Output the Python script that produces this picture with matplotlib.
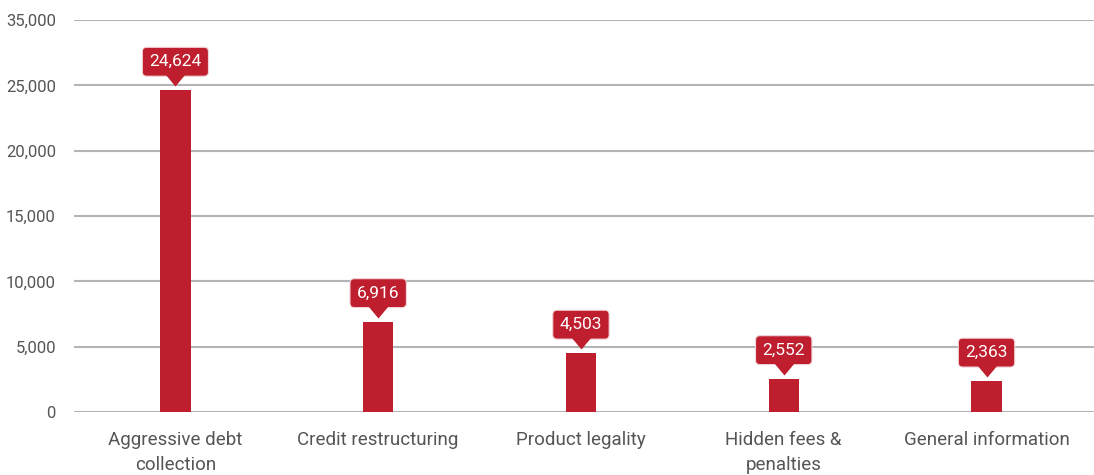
import matplotlib
matplotlib.use("Agg")
import matplotlib.pyplot as plt
import matplotlib.transforms as mtransforms

categories = ["Aggressive debt\ncollection", "Credit restructuring", "Product legality",
              "Hidden fees &\npenalties", "General information"]
values = [24624, 6916, 4503, 2552, 2363]
value_labels = ["24,624", "6,916", "4,503", "2,552", "2,363"]
ytick_values = [0, 5000, 10000, 15000, 20000, 25000, 30000]
ytick_labels = ["0", "5,000", "10,000", "15,000", "20,000", "25,000", "35,000"]

RED = "#be1e2d"
GRID = "#b4b4b8"
TXT = "#555555"

plt.rcParams['font.family'] = ['Roboto', 'DejaVu Sans']

fig = plt.figure(figsize=(10.94, 4.75), dpi=100)
ax = fig.add_axes([74/1094, 1 - 412/475, 1 - 74/1094, (412 - 20)/475])

x = list(range(len(categories)))
ax.bar(x, values, width=0.15, color=RED, zorder=3)

ax.set_xlim(-0.5, len(categories) - 0.47)
ax.set_ylim(0, 30000)
ax.set_yticks(ytick_values)
ax.set_yticklabels(ytick_labels)
ax.set_xticks(x)
ax.set_xticklabels(categories, fontsize=13.5, linespacing=1.45)

for s in ax.spines.values():
    s.set_visible(False)
ax.tick_params(axis='both', length=0, colors=TXT)
ax.tick_params(axis='y', pad=13, labelsize=12)
ax.tick_params(axis='x', pad=14)
ax.yaxis.grid(True, color=GRID, linewidth=1.5, zorder=0)
ax.set_axisbelow(True)

tri = [(-1, 0), (1, 0), (0, -1.2)]
px = 0.72  # points per pixel
for xi, v, lab in zip(x, values, value_labels):
    tri_tr = mtransforms.offset_copy(ax.transData, fig=fig, x=0, y=16 * px, units='points')
    ax.plot([xi], [v], marker=tri, markersize=24 * px, color=RED, markeredgewidth=0,
            transform=tri_tr, zorder=7, clip_on=False)
    ax.annotate(lab, xy=(xi, v), xytext=(0, 28.5 * px), textcoords='offset points',
                ha='center', va='center', color='white', fontsize=12.5,
                bbox=dict(boxstyle='round,pad=0.4,rounding_size=0.25', fc=RED,
                          ec='#f2d4d8', lw=0.8),
                zorder=6, annotation_clip=False)

fig.savefig("out.png", dpi=100)
